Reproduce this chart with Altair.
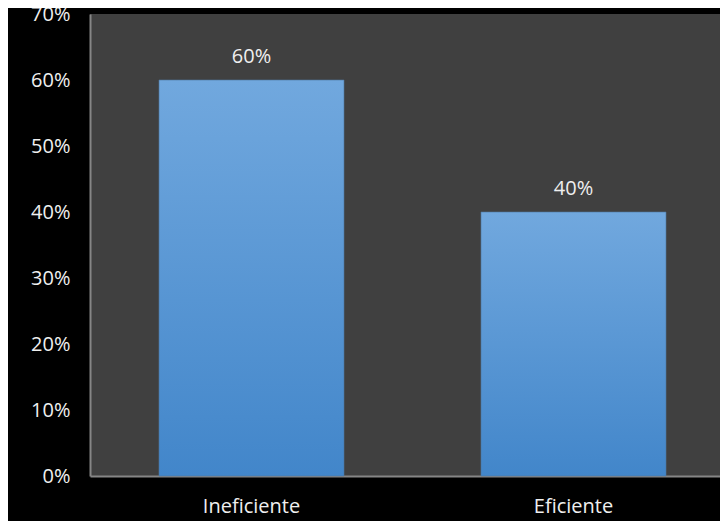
import altair as alt
import pandas as pd

categories = ["Ineficiente", "Eficiente"]
values = [0.60, 0.40]
labels = ["60%", "40%"]

df = pd.DataFrame({"cat": categories, "val": values, "lab": labels})

FONT = "Open Sans"
TXT = "#efefef"

x = alt.X(
    "cat:N",
    sort=categories,
    title=None,
    scale=alt.Scale(paddingInner=0.4255, paddingOuter=0.191, align=0.561),
    axis=alt.Axis(
        labelAngle=0, ticks=False, domainColor="#868686", domainWidth=2,
        labelColor=TXT, labelFont=FONT, labelFontSize=20, labelPadding=20,
        grid=False,
    ),
)
y = alt.Y(
    "val:Q",
    title=None,
    scale=alt.Scale(domain=[0, 0.7], nice=False),
    axis=alt.Axis(
        values=[0, 0.1, 0.2, 0.3, 0.4, 0.5, 0.6, 0.7], format=".0%",
        ticks=False, domainColor="#868686", domainWidth=2,
        labelColor=TXT, labelFont=FONT, labelFontSize=20, labelPadding=20,
        grid=False,
    ),
)

bars = alt.Chart(df).mark_bar(
    color=alt.Gradient(
        gradient="linear",
        stops=[alt.GradientStop(color="#71a8de", offset=0),
               alt.GradientStop(color="#4286ca", offset=1)],
        x1=0, x2=0, y1=0, y2=1,
    ),
    stroke="#4f76a0", strokeWidth=0.6,
).encode(x=x, y=y)

text = alt.Chart(df).mark_text(
    font=FONT, fontSize=20, color=TXT, baseline="middle", dy=-23,
).encode(x=alt.X("cat:N", sort=categories), y="val:Q", text="lab:N")

chart = (bars + text).properties(
    width=630, height=462,
    autosize=alt.AutoSizeParams(type="none"),
    padding={"left": 82, "top": 6, "right": 0, "bottom": 45},
    background="black",
).configure_view(fill="#404040", stroke=None)

chart.save("out.html", embed_options={"renderer": "svg", "actions": False})
